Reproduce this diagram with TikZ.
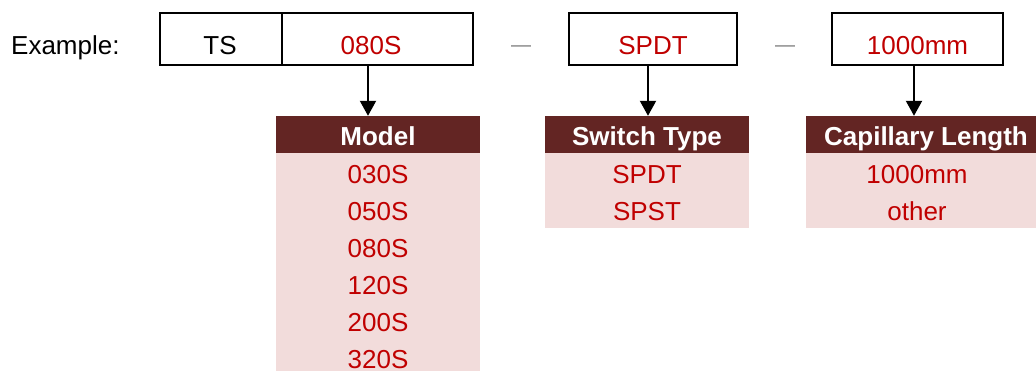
\documentclass[tikz,border=0pt]{standalone}
\usepackage{fontspec}
\setmainfont{Liberation Sans}
\usetikzlibrary{arrows.meta}
\definecolor{hdr}{HTML}{632523}
\definecolor{pinkbg}{HTML}{F2DCDB}
\definecolor{redtxt}{HTML}{C00000}
\begin{document}
\begin{tikzpicture}[x=1pt,y=-1pt,
  font=\fontsize{26}{31}\selectfont,
  box/.style={draw=black, line width=2pt, inner sep=0pt, fill=white},
  hdrbox/.style={fill=hdr, draw=none, inner sep=0pt},
  pinkbox/.style={fill=pinkbg, draw=none, inner sep=0pt},
  hdrtxt/.style={text=white, font=\fontsize{26}{31}\selectfont\bfseries, anchor=base, inner sep=0pt},
  rowtxt/.style={text=redtxt, anchor=base, inner sep=0pt},
  blacktxt/.style={text=black, anchor=base, inner sep=0pt},
  dashtxt/.style={text=black!50, font=\fontsize{20}{24}\selectfont, anchor=base, inner sep=0pt},
  arr/.style={line width=2pt, -{Triangle[width=16pt,length=15pt]}}
]
\useasboundingbox (0,0) rectangle (1036,371);

% example label
\node[blacktxt, anchor=base west] (ex) at (11,55) {Example:};

% top boxes
\node[box, minimum width=122pt, minimum height=52pt] (ts) at (221,39) {};
\node[box, minimum width=191pt, minimum height=52pt] (code) at (377.5,39) {};
\node[box, minimum width=168pt, minimum height=52pt] (sw) at (653,39) {};
\node[box, minimum width=171pt, minimum height=52pt] (cap) at (917.5,39) {};

\node[blacktxt] (tst) at (220,55) {TS};
\node[rowtxt] (codet) at (371,55) {080S};
\node[rowtxt] (swt) at (653,55) {SPDT};
\node[rowtxt] (capt) at (917.5,55) {1000mm};

\node[dashtxt] (d1) at (521,51.5) {—};
\node[dashtxt] (d2) at (785,51.5) {—};

% Model table
\node[pinkbox, minimum width=204pt, minimum height=220pt] (mb) at (378,263) {};
\node[hdrbox, minimum width=204pt, minimum height=37pt] (mh) at (378,134.5) {};
\node[hdrtxt] (mht) at (378,146) {Model};
\node[rowtxt] (m1) at (378,184) {030S};
\node[rowtxt] (m2) at (378,220.8) {050S};
\node[rowtxt] (m3) at (378,257.6) {080S};
\node[rowtxt] (m4) at (378,294.4) {120S};
\node[rowtxt] (m5) at (378,331.2) {200S};
\node[rowtxt] (m6) at (378,368) {320S};

% Switch table
\node[pinkbox, minimum width=204pt, minimum height=75pt] (sb) at (647,190.5) {};
\node[hdrbox, minimum width=204pt, minimum height=37pt] (sh) at (647,134.5) {};
\node[hdrtxt] (sht) at (647,146) {Switch Type};
\node[rowtxt] (s1) at (647,184) {SPDT};
\node[rowtxt] (s2) at (647,220.5) {SPST};

% Capillary table
\node[pinkbox, minimum width=230pt, minimum height=75pt] (cb) at (921,190.5) {};
\node[hdrbox, minimum width=230pt, minimum height=37pt] (ch) at (921,134.5) {};
\node[hdrtxt] (cht) at (926,146) {Capillary Length};
\node[rowtxt] (c1) at (917,184) {1000mm};
\node[rowtxt] (c2) at (917,220.5) {other};

% arrows
\draw[arr] ([xshift=-9.5pt]code.south) -- ([xshift=-10pt]mh.north);
\draw[arr] ([xshift=-5pt]sw.south) -- ([xshift=1pt]sh.north);
\draw[arr] ([xshift=-3.5pt]cap.south) -- ([xshift=-7pt]ch.north);
\end{tikzpicture}
\end{document}
